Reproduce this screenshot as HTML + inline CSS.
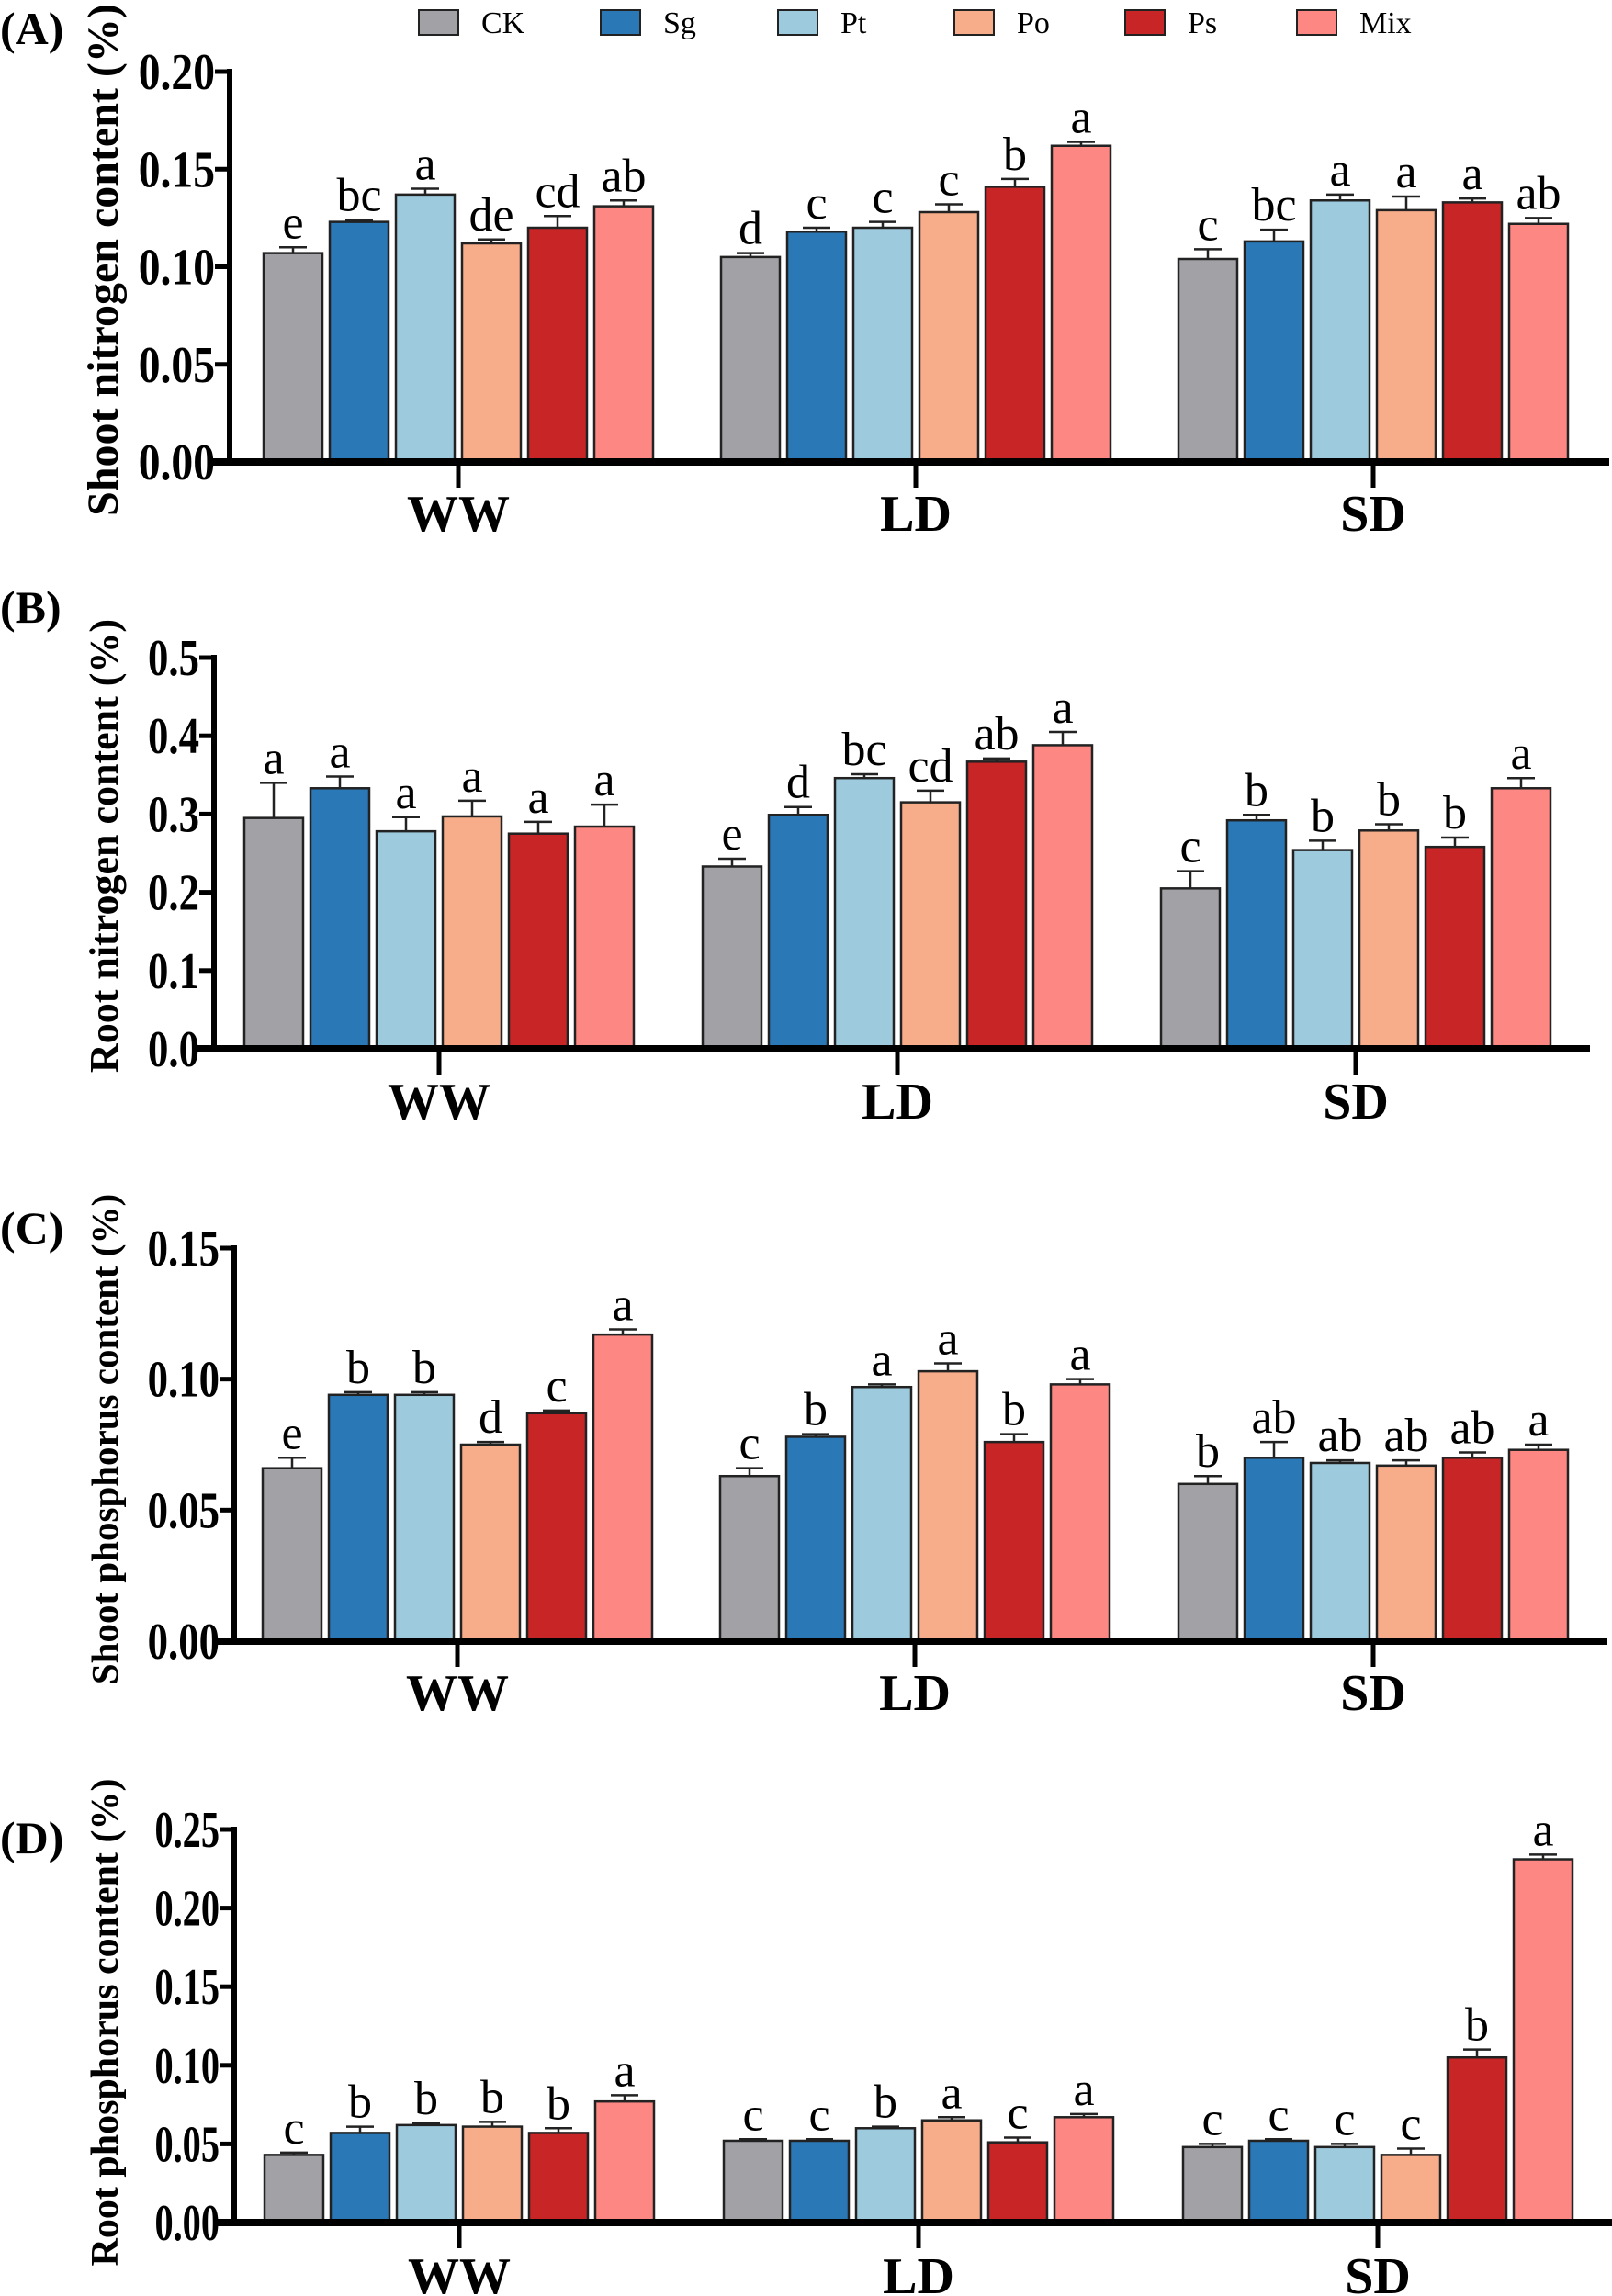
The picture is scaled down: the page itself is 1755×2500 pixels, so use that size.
<!DOCTYPE html>
<html><head><meta charset="utf-8"><style>
html,body{margin:0;padding:0;background:#fff;}
svg{display:block;font-family:"Liberation Serif",serif;}
</style></head><body>
<svg id="chart" width="1755" height="2500" viewBox="0 0 1755 2500" xmlns="http://www.w3.org/2000/svg"></svg>
<script>
const treatments = ["CK","Sg","Pt","Po","Ps","Mix"];
const colors = ["#a2a1a6","#2a78b5","#9dcadd","#f7ac8a","#c82526","#fd8883"];
const groups = ["WW","LD","SD"];

const shootNValues = [[0.107,0.123,0.137,0.112,0.120,0.131],[0.105,0.118,0.120,0.128,0.141,0.162],[0.104,0.113,0.134,0.129,0.133,0.122]];
const shootNErrors = [[0.003,0.001,0.003,0.002,0.006,0.003],[0.002,0.002,0.003,0.004,0.004,0.002],[0.005,0.006,0.003,0.007,0.002,0.003]];
const shootNLetters = [["e","bc","a","de","cd","ab"],["d","c","c","c","b","a"],["c","bc","a","a","a","ab"]];

const rootNValues = [[0.295,0.333,0.278,0.297,0.275,0.284],[0.233,0.299,0.346,0.315,0.367,0.388],[0.205,0.292,0.254,0.279,0.258,0.333]];
const rootNErrors = [[0.045,0.015,0.018,0.02,0.015,0.028],[0.01,0.01,0.005,0.015,0.004,0.017],[0.022,0.007,0.012,0.008,0.012,0.013]];
const rootNLetters = [["a","a","a","a","a","a"],["e","d","bc","cd","ab","a"],["c","b","b","b","b","a"]];

const shootPValues = [[0.066,0.094,0.094,0.075,0.087,0.117],[0.063,0.078,0.097,0.103,0.076,0.098],[0.060,0.070,0.068,0.067,0.070,0.073]];
const shootPErrors = [[0.004,0.001,0.001,0.001,0.001,0.002],[0.003,0.001,0.001,0.003,0.003,0.002],[0.003,0.006,0.001,0.002,0.002,0.002]];
const shootPLetters = [["e","b","b","d","c","a"],["c","b","a","a","b","a"],["b","ab","ab","ab","ab","a"]];

const rootPValues = [[0.043,0.057,0.062,0.061,0.057,0.077],[0.052,0.052,0.060,0.065,0.051,0.067],[0.048,0.052,0.048,0.043,0.105,0.231]];
const rootPErrors = [[0.0015,0.004,0.001,0.003,0.003,0.004],[0.001,0.001,0.001,0.002,0.003,0.002],[0.002,0.001,0.002,0.004,0.005,0.003]];
const rootPLetters = [["c","b","b","b","b","a"],["c","c","b","a","c","a"],["c","c","c","c","b","a"]];

const ticksA = ["0.00","0.05","0.10","0.15","0.20"];
const ticksB = ["0.0","0.1","0.2","0.3","0.4","0.5"];
const ticksC = ["0.00","0.05","0.10","0.15"];
const ticksD = ["0.00","0.05","0.10","0.15","0.20","0.25"];

const NS="http://www.w3.org/2000/svg";
const svg=document.getElementById('chart');
function mk(tag,attrs,parent){const e=document.createElementNS(NS,tag);for(const k in attrs)e.setAttribute(k,attrs[k]);(parent||svg).appendChild(e);return e;}

const panels=[
 {id:"a",label:"(A)",title:"Shoot nitrogen content (%)",tfs:48,vals:shootNValues,errs:shootNErrors,lets:shootNLetters,ticks:ticksA,max:0.20,ax:250,y0:503,yt:78,right:1752,centers:[499,997,1495],labY:30,titleY:283,glY:578,tsx:0.85},
 {id:"b",label:"(B)",title:"Root nitrogen content (%)",tfs:44,vals:rootNValues,errs:rootNErrors,lets:rootNLetters,ticks:ticksB,max:0.5,ax:233,y0:1142,yt:716,right:1731,centers:[478,977,1476],labY:660,titleY:921,glY:1218,tsx:0.8},
 {id:"c",label:"(C)",title:"Shoot phosphorus content (%)",tfs:41,vals:shootPValues,errs:shootPErrors,lets:shootPLetters,ticks:ticksC,max:0.15,ax:255,y0:1787,yt:1359,right:1750,centers:[498,996,1495],labY:1336,titleY:1567,glY:1862,tsx:0.8},
 {id:"d",label:"(D)",title:"Root phosphorus content (%)",tfs:42,vals:rootPValues,errs:rootPErrors,lets:rootPLetters,ticks:ticksD,max:0.25,ax:255,y0:2420,yt:1992,right:1755,centers:[500,1000,1500],labY:2000,titleY:2202,glY:2497,tsx:0.72}
];

const legX=[456,654,847,1039,1225,1412];
treatments.forEach((t,i)=>{
  const g=mk('g',{});
  
  
  mk('rect',{x:legX[i],y:11,width:43,height:27,fill:colors[i],stroke:"#222","stroke-width":2},g);
  mk('text',{x:legX[i]+68,y:36,"font-size":34},g).textContent=t;
});

panels.forEach(p=>{
  const g=mk('g',{});
  
  
  const yScale=v=>p.y0-(v/p.max)*(p.y0-p.yt);
  const barW=64, step=72;
  const pl=mk('text',{x:0,y:p.labY+18,"font-size":50,"font-weight":"bold"},g);
  pl.textContent=p.label;
  
  
  const tt=mk('text',{x:0,y:0,"font-size":p.tfs,"font-weight":"bold","text-anchor":"middle",transform:`translate(128,${p.titleY}) rotate(-90)`},g);
  tt.textContent=p.title;
  
  
  const n=p.ticks.length-1;
  p.ticks.forEach((lab,i)=>{
    const v=p.max*i/n, y=yScale(v);
    mk('line',{x1:p.ax-16,x2:p.ax,y1:y,y2:y,stroke:"#000","stroke-width":5},g);
    const t=mk('text',{x:0,y:0,"font-size":56,"font-weight":"bold","text-anchor":"end",transform:`translate(${p.ax-16},${y+19}) scale(${p.tsx},1)`},g);
    t.textContent=lab;
    
    
  });
  groups.forEach((gn,gi)=>{
    const start=p.centers[gi]-3*step+(step-barW)/2;
    treatments.forEach((tr,ti)=>{
      const v=p.vals[gi][ti], e=p.errs[gi][ti];
      const x=start+ti*step, y=yScale(v), ye=yScale(v+e), cx=x+barW/2;
      const r=mk('rect',{x:x,y:y,width:barW,height:p.y0-y,fill:colors[ti],stroke:"#222","stroke-width":2.5},g);
      
      
      mk('line',{x1:cx,x2:cx,y1:y,y2:ye,stroke:"#222","stroke-width":2.5},g);
      mk('line',{x1:cx-15,x2:cx+15,y1:ye,y2:ye,stroke:"#222","stroke-width":2.5},g);
      const lt=mk('text',{x:cx,y:ye-10,"font-size":52,"text-anchor":"middle"},g);
      lt.textContent=p.lets[gi][ti];
      
      
    });
    mk('line',{x1:p.centers[gi],x2:p.centers[gi],y1:p.y0,y2:p.y0+28,stroke:"#000","stroke-width":5},g);
    const gl=mk('text',{x:p.centers[gi],y:p.glY,"font-size":56,"font-weight":"bold","text-anchor":"middle"},g);
    gl.textContent=gn;
    
    
  });
  mk('line',{x1:p.ax,x2:p.ax,y1:p.yt-3,y2:p.y0,stroke:"#000","stroke-width":6},g);
  mk('line',{x1:p.ax-18,x2:p.right,y1:p.y0,y2:p.y0,stroke:"#000","stroke-width":8},g);
});
</script>
</body></html>
